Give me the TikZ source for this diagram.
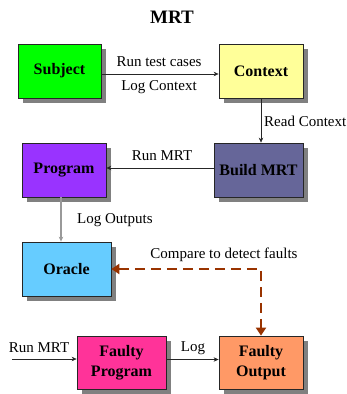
\documentclass[tikz,border=0pt]{standalone}
\usepackage{fontspec}
\setmainfont{Liberation Serif}
\usetikzlibrary{arrows.meta,shadows}
\definecolor{subjectgreen}{HTML}{00FF00}
\definecolor{contextyellow}{HTML}{FFFF99}
\definecolor{programpurple}{HTML}{9933FF}
\definecolor{buildslate}{HTML}{666699}
\definecolor{oracleblue}{HTML}{66CCFF}
\definecolor{faultypink}{HTML}{FF3399}
\definecolor{faultyorange}{HTML}{FF9966}
\definecolor{comparebrown}{HTML}{993300}

\begin{document}
\begin{tikzpicture}[
  x=1pt,
  y=-1pt,
  box/.style={draw=black!85,line width=0.8pt,minimum height=54pt,inner sep=0pt,
    align=center,font=\bfseries\fontsize{16}{20}\selectfont,
    drop shadow={shadow xshift=5pt,shadow yshift=-5pt,fill=black!50,opacity=1}},
  flow/.style={draw=black!85,line width=0.6pt,-{Stealth[length=5pt,width=4.5pt]}},
  logflow/.style={draw=black!40,line width=1.1pt,-{Stealth[length=5pt,width=4.5pt]}},
  compare/.style={draw=comparebrown,line width=2.6pt,dash pattern=on 10pt off 6pt,
    {Triangle[length=8pt,width=10pt]}-{Triangle[length=8pt,width=10pt]}},
  lbl/.style={font=\fontsize{15}{18}\selectfont,inner sep=0pt}
]
  \useasboundingbox (0,0) rectangle (347,394);

  % Title.
  \node[font=\bfseries\fontsize{19}{22}\selectfont] (title) at (172,17) {MRT};

  % Process boxes.
  \node[box,fill=subjectgreen,minimum width=83pt] (subject) at (59.5,71) {Subject};
  \node[box,fill=contextyellow,minimum width=84pt] (context) at (261,71) {Context};
  \node[box,fill=programpurple,minimum width=84pt] (program) at (64,170) {Program};
  \node[box,fill=buildslate,minimum width=89pt] (buildmrt) at (258.5,170) {Build MRT};
  \node[box,fill=oracleblue,minimum width=89pt] (oracle) at (66.5,269) {Oracle};
  \node[box,fill=faultypink,minimum width=89pt,minimum height=53pt] (faultyprog) at (121.5,362.5) {Faulty\\Program};
  \node[box,fill=faultyorange,minimum width=84pt,minimum height=53pt] (faultyout) at (261,362.5) {Faulty\\Output};

  % Free end of the input arrow and the corner of the dashed link.
  \coordinate (runin) at (12,359);
  \coordinate (corner) at (261,269);

  % Connectors.
  \draw[flow] ([yshift=-3pt]subject.east) -- ([yshift=-3pt]context.west);
  \draw[flow] (context.south) -- (context.south |- buildmrt.north);
  \draw[flow] ([yshift=2pt]buildmrt.west) -- ([yshift=2pt]program.east);
  \draw[logflow] ([xshift=-3pt]program.south) -- ([xshift=-3pt]program.south |- oracle.north);
  \draw[flow] (runin) -- (faultyprog.west |- runin);
  \draw[flow] ([yshift=3pt]faultyprog.east) -- ([yshift=3pt]faultyout.west);
  \draw[compare] (oracle.east) -- (corner) -- (faultyout.north);

  % Connector labels.
  \node[lbl] (l1) at (159,62) {Run test cases};
  \node[lbl] (l2) at (159,87) {Log Context};
  \node[lbl,anchor=west] (l3) at (264,121) {Read Context};
  \node[lbl] (l4) at (162,156) {Run MRT};
  \node[lbl,anchor=west] (l5) at (77,220) {Log Outputs};
  \node[lbl] (l6) at (224,255) {Compare to detect faults};
  \node[lbl] (l7) at (39,348) {Run MRT};
  \node[lbl] (l8) at (193,348) {Log};
\end{tikzpicture}
\end{document}
